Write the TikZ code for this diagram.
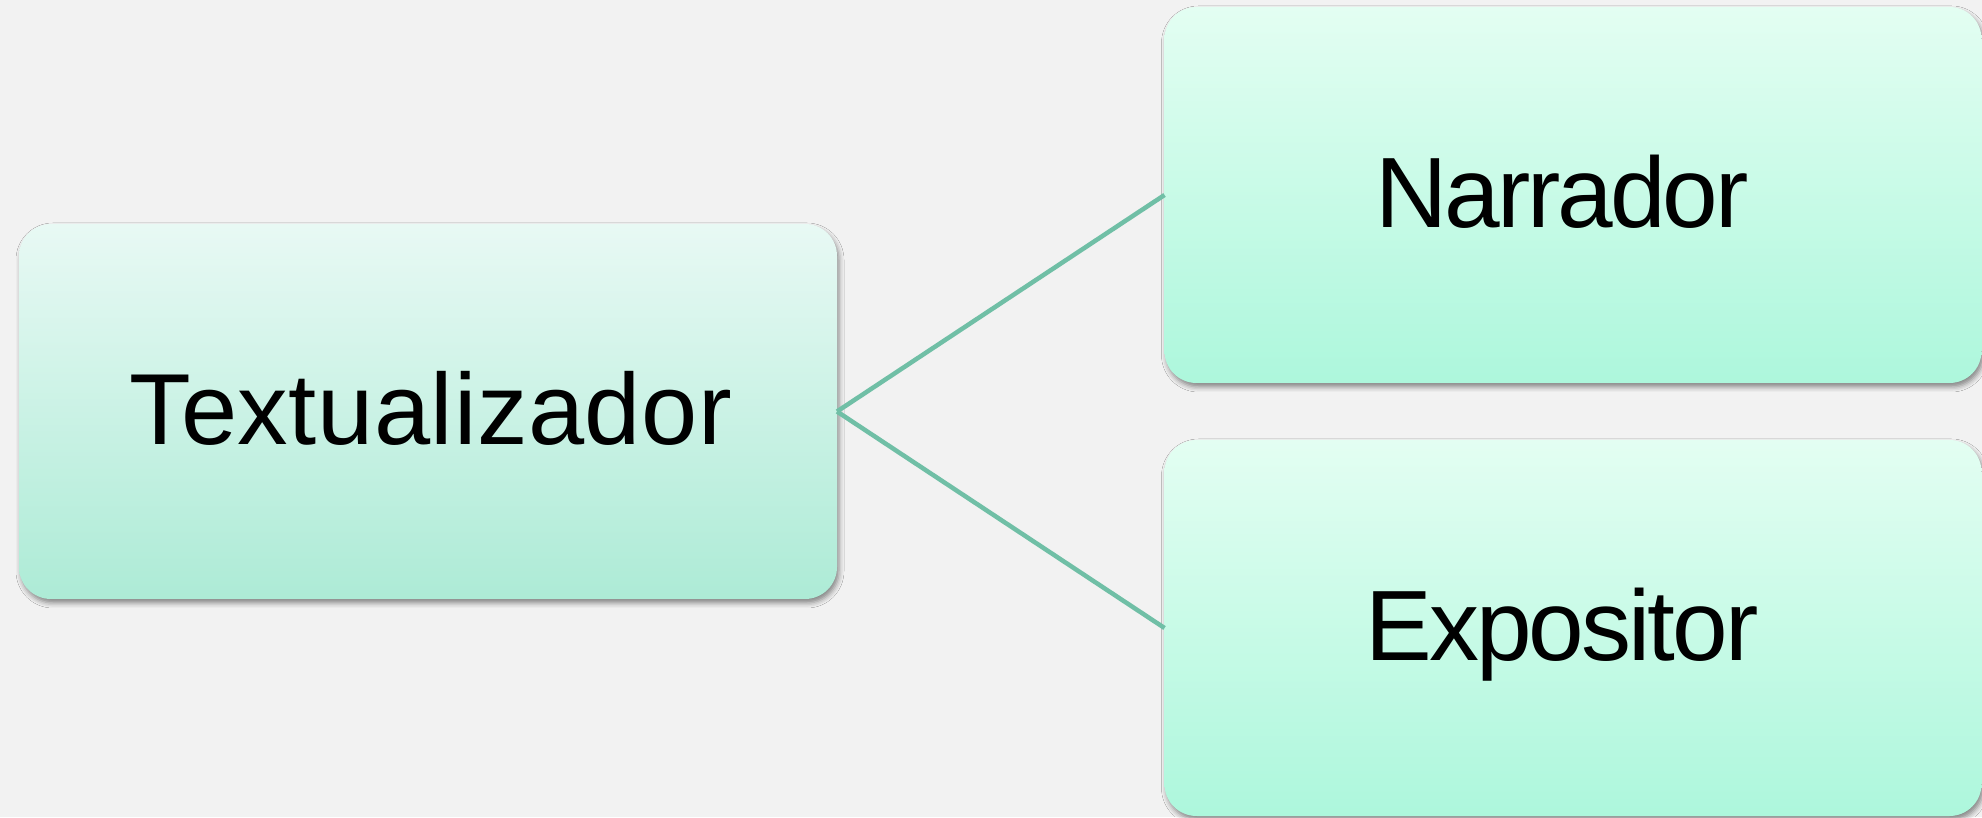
\documentclass[tikz,border=0pt]{standalone}
\usepackage{fontspec}
\setmainfont{Liberation Sans}
\usetikzlibrary{shadows.blur}
\definecolor{bg}{HTML}{F2F2F2}
\definecolor{ltop}{HTML}{E8F9F4}
\definecolor{lbot}{HTML}{ADEBD6}
\definecolor{rtop}{HTML}{E3FEF2}
\definecolor{rbot}{HTML}{ADF7DC}
\definecolor{conn}{HTML}{70BFA6}
\tikzset{
  box/.style={rounded corners=32pt, inner sep=0pt, outer sep=0pt,
    minimum width=817pt, minimum height=376pt,
    text height=66pt, text depth=0pt,
    blur shadow={shadow xshift=2pt, shadow yshift=-4pt, shadow blur radius=5pt, shadow opacity=45}},
  lbox/.style={box, top color=ltop, bottom color=lbot,
    font=\fontsize{101}{120}\selectfont\addfontfeatures{LetterSpace=0.6}},
  rbox/.style={box, top color=rtop, bottom color=rbot,
    font=\fontsize{100}{120}\selectfont\addfontfeatures{LetterSpace=-3}},
  link/.style={draw=conn, line width=4.5pt}
}
\begin{document}
\begin{tikzpicture}[x=1pt,y=1pt]
\fill[bg] (0,0) rectangle (1982,817);
\useasboundingbox (0,0) rectangle (1982,817);
\node[lbox, minimum width=818pt, minimum height=375pt] (T) at (428,405.5) {\kern6pt Textualizador};
\node[rbox] (N) at (1573,622) {Narrador\kern22pt};
\node[rbox] (E) at (1573,189) {Expositor\kern22pt};
\draw[link] (T.east) -- (N.west);
\draw[link] (T.east) -- (E.west);
\end{tikzpicture}
\end{document}
